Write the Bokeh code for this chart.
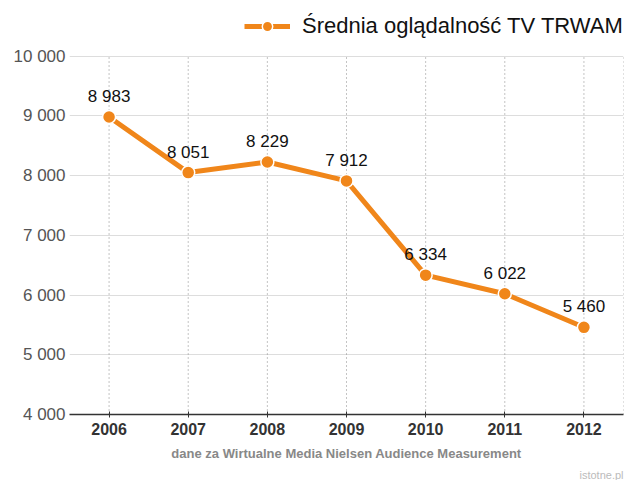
from bokeh.plotting import figure
from bokeh.models import ColumnDataSource, FixedTicker, Legend, LegendItem, Title, Range1d
from bokeh.core.properties import value
from bokeh.embed import file_html
from bokeh.resources import INLINE

years = [2006, 2007, 2008, 2009, 2010, 2011, 2012]
viewers = [8983, 8051, 8229, 7912, 6334, 6022, 5460]
y_ticks = [4000, 5000, 6000, 7000, 8000, 9000, 10000]
series_name = "Średnia oglądalność TV TRWAM"
footer = "dane za Wirtualne Media Nielsen Audience Measurement"
watermark = "istotne.pl"

ORANGE = "#F0861A"
FONT = "Liberation Sans"

X_START, X_END = 2005.5, 2012.5
# extra room above 10 000 keeps the legend inside the frame
Y_TOP = 10933


def fmt(v):
    return f"{v:,}".replace(",", " ")


source = ColumnDataSource(data=dict(
    year=years, viewers=viewers, label=[fmt(v) for v in viewers]))

p = figure(width=640, height=480, output_backend="svg", toolbar_location=None,
           x_range=Range1d(X_START, X_END), y_range=Range1d(y_ticks[0], Y_TOP),
           min_border_left=69, min_border_right=17, min_border_top=0,
           min_border_bottom=65)
p.outline_line_color = None
p.background_fill_color = "white"

# vertical dotted lines, only across the value area
p.segment(x0="year", y0=y_ticks[0], x1="year", y1=y_ticks[-1], source=source,
          line_color="#888888", line_dash="1 3", line_width=1)
p.segment(x0=[X_END], y0=[y_ticks[0]], x1=[X_END], y1=[y_ticks[-1]],
          line_color="#888888", line_dash="1 3", line_width=1)

# line + markers
line = p.line("year", "viewers", source=source, line_color=ORANGE, line_width=5)
dots = p.scatter("year", "viewers", source=source, marker="circle", size=13,
                 fill_color=ORANGE, line_color="white", line_width=1.5)

# value labels
p.text("year", "viewers", text="label", source=source, text_align="center",
       text_baseline="bottom", y_offset=-11, text_font_size="17px",
       text_color="#111111", text_font=value(FONT))

# axes
p.xaxis.ticker = FixedTicker(ticks=years)
p.xaxis.major_label_text_font = FONT
p.xaxis.major_label_text_font_style = "bold"
p.xaxis.major_label_text_font_size = "16px"
p.xaxis.major_label_text_color = "#333333"
p.xaxis.axis_line_color = "#333333"
p.xaxis.axis_line_width = 1.5
p.xaxis.major_tick_line_color = "#333333"
p.xaxis.major_tick_in = 3
p.xaxis.major_tick_out = 3
p.xaxis.minor_tick_line_color = None
p.xaxis.major_label_standoff = 5

p.yaxis.ticker = FixedTicker(ticks=y_ticks)
p.yaxis.major_label_overrides = {t: fmt(t) for t in y_ticks}
p.yaxis.major_label_text_font = FONT
p.yaxis.major_label_text_font_size = "17px"
p.yaxis.major_label_text_color = "#555555"
p.yaxis.axis_line_color = None
p.yaxis.major_tick_line_color = None
p.yaxis.minor_tick_line_color = None
p.yaxis.major_tick_out = 0
p.yaxis.major_tick_in = 0
p.yaxis.major_label_standoff = 4

# grids
p.xgrid.grid_line_color = None
p.ygrid.ticker = FixedTicker(ticks=y_ticks[1:])
p.ygrid.grid_line_color = "#dddddd"
p.ygrid.grid_line_width = 1

# legend at the top of the frame
legend = Legend(items=[LegendItem(label=series_name, renderers=[line, dots])],
                location=(175, 375), orientation="horizontal",
                label_text_font=FONT, label_text_font_size="22px",
                label_text_color="#111111", glyph_width=46, glyph_height=26,
                label_standoff=12, border_line_color=None,
                background_fill_alpha=0, margin=0, padding=0)
p.add_layout(legend)

# footer and watermark below the axis
p.add_layout(Title(text=footer, align="center", text_font=FONT,
                   text_font_style="bold", text_font_size="13px",
                   text_color="#888888", standoff=12), "below")
p.add_layout(Title(text=watermark, align="right", text_font=FONT,
                   text_font_style="normal", text_font_size="11px",
                   text_color="#bbbbbb", standoff=0), "below")

open("out.html", "w").write(file_html(p, INLINE))
